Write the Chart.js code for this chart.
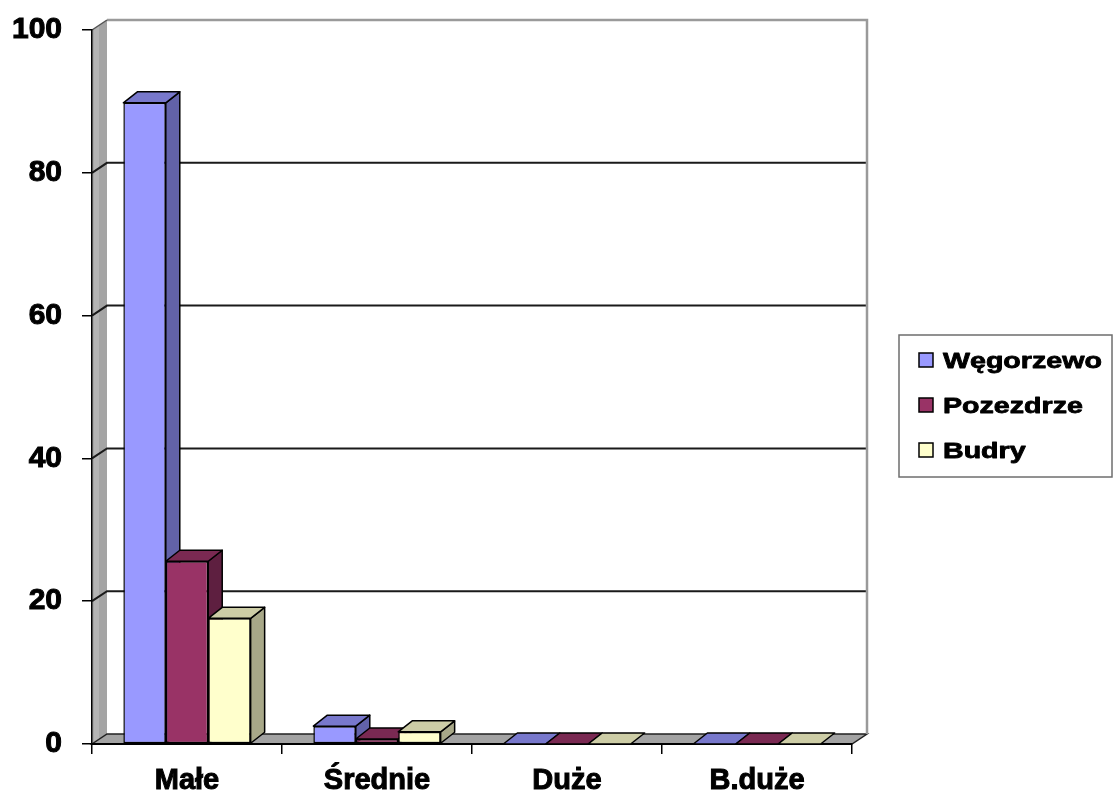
<!DOCTYPE html>
<html><head><meta charset="utf-8">
<script src="https://cdn.jsdelivr.net/npm/chart.js@4.4.1/dist/chart.umd.min.js"></script>
<style>html,body{margin:0;padding:0;background:#fff}#wrap{width:1113px;height:796px;position:relative}canvas{display:block}</style>
</head><body><div id="wrap"><canvas id="c" width="1113" height="796"></canvas></div>
<script>
const categories = ['Małe', 'Średnie', 'Duże', 'B.duże'];
const seriesNames = ['Węgorzewo', 'Pozezdrze', 'Budry'];
const wegorzewo = [89.8, 2.5, 0, 0];
const pozezdrze = [25.6, 0.7, 0, 0];
const budry = [17.6, 1.7, 0, 0];
const yTicks = [0, 20, 40, 60, 80, 100];

const frontColors = ['#9999ff', '#993366', '#ffffcc'];
const sideColors = ['#6262a8', '#5e1f40', '#a8a888'];
const topColors = ['#7878cc', '#7a2952', '#cdcda6'];

const BAR_DEPTH = {dx: 14, dy: -11};
const WALL_DEPTH = {dx: 15, dy: -10};
const FONT = 'Liberation Sans, Arial, sans-serif';

function poly(ctx, pts) {
  ctx.beginPath();
  ctx.moveTo(pts[0][0], pts[0][1]);
  for (let i = 1; i < pts.length; i++) ctx.lineTo(pts[i][0], pts[i][1]);
  ctx.closePath();
}

const wallsPlugin = {
  id: 'walls',
  beforeDraw(chart) {
    const ctx = chart.ctx, ca = chart.chartArea, ys = chart.scales.y;
    const L = ca.left, R = ca.right;
    const T = ys.getPixelForValue(yTicks[yTicks.length - 1]);
    const B = ys.getPixelForValue(yTicks[0]);
    const dx = WALL_DEPTH.dx, dy = WALL_DEPTH.dy;
    ctx.save();
    // side wall
    poly(ctx, [[L, T], [L + dx, T + dy], [L + dx, B + dy], [L, B]]);
    ctx.fillStyle = '#a4a4a4';
    ctx.fill();
    ctx.fillStyle = '#b4b4b4';
    poly(ctx, [[L + 2, T - 1], [L + 7, T - 5], [L + 7, B - 5], [L + 2, B - 1]]);
    ctx.fill();
    // floor
    poly(ctx, [[L, B], [R, B], [R + dx, B + dy], [L + dx, B + dy]]);
    ctx.fillStyle = '#a3a3a3';
    ctx.fill();
    ctx.strokeStyle = '#222';
    ctx.lineWidth = 1.5;
    ctx.stroke();
    // gridlines on back wall
    ctx.lineWidth = 2;
    yTicks.forEach(v => {
      if (v === yTicks[0] || v === yTicks[yTicks.length - 1]) return;
      const py = ys.getPixelForValue(v);
      ctx.strokeStyle = '#1a1a1a';
      ctx.beginPath();
      ctx.moveTo(L, py);
      ctx.lineTo(L + dx, py + dy);
      ctx.lineTo(R + dx, py + dy);
      ctx.stroke();
    });
    // top and right edges of back wall
    ctx.strokeStyle = '#9a9a9a';
    ctx.lineWidth = 2.5;
    ctx.beginPath();
    ctx.moveTo(L + dx, T + dy);
    ctx.lineTo(R + dx, T + dy);
    ctx.lineTo(R + dx, B + dy);
    ctx.stroke();
    ctx.strokeStyle = '#555';
    ctx.lineWidth = 1.5;
    ctx.beginPath();
    ctx.moveTo(L, T);
    ctx.lineTo(L + dx, T + dy);
    ctx.stroke();
    ctx.restore();
  },
  beforeDatasetsDraw(chart) {
    const ctx = chart.ctx;
    const dx = BAR_DEPTH.dx, dy = BAR_DEPTH.dy;
    const metas = chart.data.datasets.map((d, i) => chart.getDatasetMeta(i));
    ctx.save();
    ctx.lineWidth = 1.5;
    ctx.strokeStyle = '#000';
    ctx.lineJoin = 'round';
    for (let j = 0; j < categories.length; j++) {
      metas.forEach((meta, i) => {
        const bar = meta.data[j];
        const p = bar.getProps(['x', 'y', 'base', 'width'], true);
        const l = p.x - p.width / 2, r = p.x + p.width / 2;
        if (p.base - p.y > 0.5) {
          poly(ctx, [[r, p.y], [r + dx, p.y + dy], [r + dx, p.base + dy], [r, p.base]]);
          ctx.fillStyle = sideColors[i];
          ctx.fill();
          ctx.stroke();
        }
        poly(ctx, [[l, p.y], [r, p.y], [r + dx, p.y + dy], [l + dx, p.y + dy]]);
        ctx.fillStyle = topColors[i];
        ctx.fill();
        ctx.stroke();
      });
    }
    ctx.restore();
  },
  afterDraw(chart) {
    const ctx = chart.ctx, ca = chart.chartArea;
    const left = ca.right + 47, top = ca.top + 305, w = 213, h = 142;
    ctx.save();
    ctx.strokeStyle = '#6e6e6e';
    ctx.lineWidth = 1.5;
    ctx.strokeRect(left, top, w, h);
    chart.data.datasets.forEach((ds, i) => {
      const base = top + 33 + i * 45;
      ctx.fillStyle = ds.backgroundColor;
      ctx.fillRect(left + 20, base - 15, 14, 14);
      ctx.strokeStyle = '#000';
      ctx.lineWidth = 1.5;
      ctx.strokeRect(left + 20, base - 15, 14, 14);
      ctx.save();
      ctx.translate(left + 44, base);
      ctx.scale(1.3, 1);
      ctx.fillStyle = '#000';
      ctx.strokeStyle = '#000';
      ctx.lineWidth = 0.8;
      ctx.lineJoin = 'round';
      ctx.font = 'bold 22px ' + FONT;
      ctx.textBaseline = 'alphabetic';
      ctx.fillText(ds.label, 0, 0);
      ctx.strokeText(ds.label, 0, 0);
      ctx.restore();
    });
    ctx.restore();
  }
};

const seriesValues = [wegorzewo, pozezdrze, budry];

new Chart(document.getElementById('c'), {
  type: 'bar',
  data: {
    labels: categories,
    datasets: seriesNames.map((name, i) => ({
      label: name,
      data: seriesValues[i],
      backgroundColor: frontColors[i],
      borderColor: '#000',
      borderWidth: 1.5,
      borderSkipped: false,
      categoryPercentage: 0.67,
      barPercentage: 1.0
    }))
  },
  options: {
    responsive: false,
    animation: false,
    devicePixelRatio: 1,
    layout: {padding: {left: 0, right: 261, top: 30, bottom: 0}},
    plugins: {legend: {display: false}, tooltip: {enabled: false}},
    scales: {
      x: {
        afterFit: s => { s.height = 52; s.paddingLeft = 0; s.paddingRight = 0; },
        grid: {display: true, drawOnChartArea: false, drawTicks: true, tickLength: 10, color: '#000', lineWidth: 1.5, offset: true},
        border: {display: true, color: '#000', width: 2},
        ticks: {color: '#000', padding: 12.5, textStrokeColor: '#000', textStrokeWidth: 1, font: {family: FONT, size: 29, weight: 'bold', lineHeight: 1.0}}
      },
      y: {
        min: yTicks[0],
        max: yTicks[yTicks.length - 1],
        afterBuildTicks: s => { s.ticks = yTicks.map(v => ({value: v})); },
        afterFit: s => { s.width = 92; s.paddingTop = 0; s.paddingBottom = 0; },
        grid: {display: true, drawOnChartArea: false, drawTicks: true, tickLength: 10, color: '#000', lineWidth: 1.5},
        border: {display: true, color: '#000', width: 1.5},
        ticks: {color: '#000', padding: 20, textStrokeColor: '#000', textStrokeWidth: 1, font: {family: FONT, size: 30, weight: 'bold'}}
      }
    }
  },
  plugins: [wallsPlugin]
});
</script></body></html>
